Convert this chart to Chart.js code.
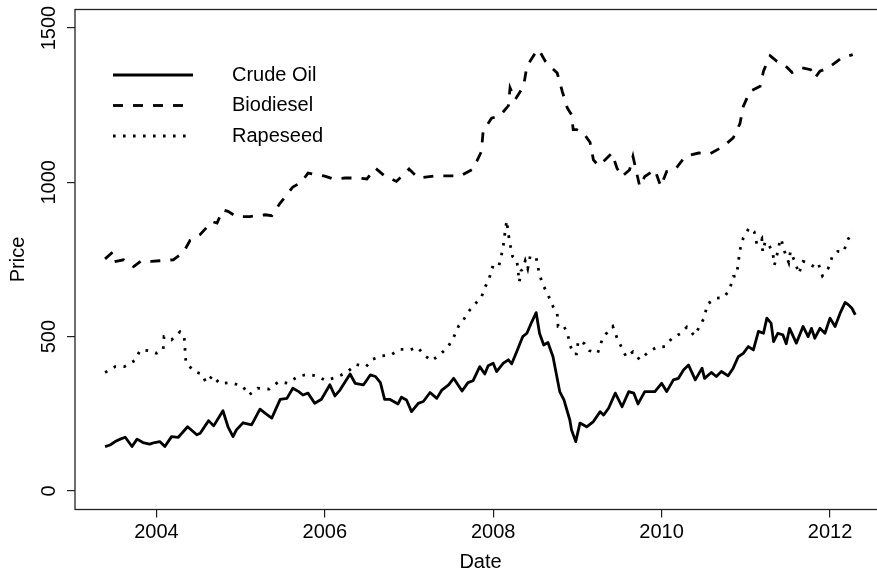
<!DOCTYPE html>
<html>
<head>
<meta charset="utf-8">
<script src="https://cdn.jsdelivr.net/npm/chart.js@4.4.1/dist/chart.umd.min.js"></script>
<style>
  html, body { margin: 0; padding: 0; background: #fff; overflow: hidden; }
  #wrap { position: absolute; left: 0; top: 0; width: 890px; height: 571px; }
</style>
</head>
<body>
<div id="wrap"><canvas id="priceChart"></canvas></div>
<script>
// weekly prices (x = decimal year)
var crudeYears = [2003.39, 2003.45, 2003.51, 2003.57, 2003.63, 2003.71, 2003.77, 2003.84, 2003.92, 2003.98,
  2004.04, 2004.10, 2004.18, 2004.26, 2004.37, 2004.48, 2004.52, 2004.62, 2004.68, 2004.79,
  2004.85, 2004.91, 2004.95, 2005.03, 2005.13, 2005.23, 2005.29, 2005.37, 2005.47, 2005.55,
  2005.62, 2005.69, 2005.74, 2005.80, 2005.88, 2005.96, 2006.06, 2006.12, 2006.18, 2006.30,
  2006.36, 2006.46, 2006.54, 2006.60, 2006.66, 2006.71, 2006.77, 2006.87, 2006.91, 2006.97,
  2007.03, 2007.11, 2007.17, 2007.25, 2007.33, 2007.39, 2007.47, 2007.53, 2007.63, 2007.70,
  2007.76, 2007.84, 2007.90, 2007.94, 2008.00, 2008.04, 2008.12, 2008.18, 2008.22, 2008.28,
  2008.35, 2008.40, 2008.46, 2008.51, 2008.55, 2008.60, 2008.65, 2008.71, 2008.79, 2008.84,
  2008.91, 2008.93, 2008.98, 2009.03, 2009.11, 2009.19, 2009.27, 2009.31, 2009.37, 2009.45,
  2009.53, 2009.61, 2009.67, 2009.72, 2009.80, 2009.92, 2010.00, 2010.06, 2010.14, 2010.20,
  2010.26, 2010.32, 2010.40, 2010.48, 2010.51, 2010.59, 2010.65, 2010.71, 2010.79, 2010.85,
  2010.91, 2010.97, 2011.03, 2011.09, 2011.15, 2011.21, 2011.25, 2011.30, 2011.33, 2011.38,
  2011.44, 2011.48, 2011.52, 2011.60, 2011.68, 2011.74, 2011.78, 2011.82, 2011.88, 2011.94,
  2012.00, 2012.06, 2012.12, 2012.18, 2012.22, 2012.26, 2012.30];
var crudePrices = [144, 149, 160, 168, 174, 144, 168, 157, 152, 157,
  160, 144, 176, 174, 208, 182, 187, 228, 211, 260,
  208, 176, 198, 221, 214, 265, 252, 236, 297, 300,
  333, 322, 311, 317, 284, 297, 344, 308, 327, 379,
  349, 344, 376, 371, 351, 297, 297, 282, 304, 295,
  257, 284, 290, 319, 300, 327, 344, 365, 324, 351,
  357, 403, 379, 406, 414, 387, 414, 425, 412, 452,
  500, 511, 549, 578, 511, 473, 481, 435, 322, 295,
  230, 198, 160, 220, 208, 225, 257, 246, 268, 317,
  273, 322, 317, 282, 322, 322, 349, 322, 360, 365,
  392, 408, 360, 398, 365, 384, 371, 387, 373, 398,
  435, 446, 468, 457, 517, 511, 560, 544, 484, 511,
  506, 477, 527, 479, 533, 500, 527, 495, 527, 511,
  560, 533, 576, 611, 603, 592, 571];

var dieselYears = [2003.39, 2003.49, 2003.52, 2003.61, 2003.73, 2003.82, 2003.94, 2004.04, 2004.20, 2004.32,
  2004.40, 2004.52, 2004.66, 2004.72, 2004.79, 2004.85, 2004.95, 2005.11, 2005.29, 2005.37,
  2005.47, 2005.55, 2005.62, 2005.72, 2005.80, 2005.90, 2006.00, 2006.10, 2006.24, 2006.38,
  2006.50, 2006.60, 2006.71, 2006.85, 2007.00, 2007.11, 2007.31, 2007.45, 2007.61, 2007.76,
  2007.86, 2007.88, 2007.98, 2008.08, 2008.18, 2008.20, 2008.26, 2008.36, 2008.40, 2008.50,
  2008.54, 2008.62, 2008.76, 2008.82, 2008.88, 2008.93, 2008.95, 2008.99, 2009.07, 2009.15,
  2009.19, 2009.25, 2009.33, 2009.41, 2009.47, 2009.53, 2009.62, 2009.66, 2009.74, 2009.80,
  2009.92, 2009.99, 2010.06, 2010.16, 2010.28, 2010.44, 2010.57, 2010.73, 2010.85, 2010.93,
  2010.97, 2011.05, 2011.17, 2011.21, 2011.25, 2011.29, 2011.37, 2011.47, 2011.55, 2011.67,
  2011.77, 2011.82, 2011.88, 2011.98, 2012.14, 2012.27];
var dieselPrices = [752, 776, 744, 749, 727, 746, 744, 746, 749, 773,
  812, 831, 873, 868, 911, 906, 889, 889, 895, 892,
  933, 960, 985, 1000, 1030, 1025, 1020, 1011, 1014, 1014,
  1011, 1046, 1021, 1003, 1043, 1014, 1021, 1021, 1021, 1043,
  1100, 1165, 1208, 1216, 1248, 1306, 1268, 1311, 1376, 1419,
  1430, 1392, 1354, 1295, 1241, 1219, 1171, 1171, 1160, 1130,
  1073, 1054, 1073, 1095, 1046, 1019, 1041, 1084, 987, 1019,
  1041, 987, 1035, 1041, 1084, 1095, 1092, 1116, 1144, 1190,
  1246, 1295, 1311, 1360, 1387, 1410, 1392, 1378, 1356, 1371,
  1365, 1338, 1360, 1371, 1403, 1414];

var seedYears = [2003.39, 2003.51, 2003.62, 2003.74, 2003.81, 2003.90, 2004.00, 2004.08, 2004.09, 2004.18,
  2004.28, 2004.33, 2004.34, 2004.35, 2004.45, 2004.54, 2004.59, 2004.67, 2004.75, 2004.87,
  2005.02, 2005.10, 2005.20, 2005.34, 2005.45, 2005.56, 2005.68, 2005.80, 2005.90, 2006.01,
  2006.14, 2006.26, 2006.37, 2006.49, 2006.57, 2006.68, 2006.78, 2006.89, 2007.02, 2007.10,
  2007.19, 2007.27, 2007.37, 2007.46, 2007.53, 2007.59, 2007.64, 2007.70, 2007.78, 2007.86,
  2007.89, 2007.95, 2007.99, 2008.06, 2008.09, 2008.12, 2008.14, 2008.16, 2008.18, 2008.20,
  2008.23, 2008.28, 2008.31, 2008.33, 2008.35, 2008.38, 2008.41, 2008.44, 2008.51, 2008.54,
  2008.58, 2008.65, 2008.71, 2008.76, 2008.77, 2008.83, 2008.88, 2008.91, 2008.95, 2008.99,
  2009.01, 2009.08, 2009.14, 2009.24, 2009.29, 2009.34, 2009.42, 2009.47, 2009.52, 2009.58,
  2009.66, 2009.74, 2009.83, 2009.94, 2010.04, 2010.13, 2010.22, 2010.30, 2010.34, 2010.39,
  2010.46, 2010.51, 2010.54, 2010.65, 2010.74, 2010.81, 2010.85, 2010.89, 2010.91, 2010.93,
  2010.97, 2011.04, 2011.10, 2011.13, 2011.16, 2011.19, 2011.20, 2011.23, 2011.28, 2011.32,
  2011.34, 2011.38, 2011.41, 2011.42, 2011.46, 2011.51, 2011.53, 2011.59, 2011.63, 2011.68,
  2011.73, 2011.81, 2011.86, 2011.91, 2011.98, 2012.03, 2012.09, 2012.16, 2012.21, 2012.27];
var seedPrices = [384, 403, 403, 422, 457, 455, 446, 457, 500, 490,
  516, 500, 457, 416, 387, 379, 351, 374, 348, 351,
  341, 311, 333, 330, 354, 349, 371, 378, 373, 358,
  369, 384, 410, 403, 427, 438, 440, 459, 458, 466,
  438, 422, 443, 465, 498, 535, 551, 579, 605, 627,
  653, 686, 725, 722, 754, 795, 837, 876, 833, 800,
  760, 749, 677, 713, 719, 746, 720, 762, 756, 714,
  674, 636, 598, 575, 534, 538, 513, 476, 444, 444,
  487, 478, 455, 446, 487, 509, 533, 496, 468, 434,
  451, 425, 447, 466, 468, 497, 509, 531, 519, 503,
  538, 563, 605, 625, 627, 654, 695, 697, 739, 780,
  820, 853, 840, 801, 808, 818, 775, 808, 794, 773,
  732, 776, 817, 816, 776, 740, 776, 738, 704, 744,
  740, 727, 738, 697, 722, 762, 776, 774, 813, 843];

var seriesNames = ['Crude Oil', 'Biodiesel', 'Rapeseed'];
var xTickValues = [2004, 2006, 2008, 2010, 2012];
var yTickValues = [0, 500, 1000, 1500];

function pairs(xs, ys) {
  return xs.map(function (x, i) { return { x: x, y: ys[i] }; });
}

var FONT = '"Liberation Sans", Arial, sans-serif';

// R-style bits the library does not draw: box, rotated y labels, titles, legend
var baseGraphics = {
  id: 'baseGraphics',
  afterDraw: function (chart) {
    var ctx = chart.ctx, a = chart.chartArea, ys = chart.scales.y;
    ctx.save();
    ctx.strokeStyle = '#222';
    ctx.lineWidth = 1.3;
    ctx.strokeRect(a.left, a.top, a.right - a.left, a.bottom - a.top);

    ctx.fillStyle = '#000';
    ctx.font = '20px ' + FONT;
    ctx.textAlign = 'center';
    ctx.textBaseline = 'middle';
    ys.ticks.forEach(function (t) {
      ctx.save();
      ctx.translate(49, ys.getPixelForValue(t.value));
      ctx.rotate(-Math.PI / 2);
      ctx.fillText(String(t.value), 0, 0);
      ctx.restore();
    });
    ctx.save();
    ctx.translate(18, (a.top + a.bottom) / 2);
    ctx.rotate(-Math.PI / 2);
    ctx.fillText('Price', 0, 0);
    ctx.restore();
    ctx.fillText('Date', (a.left + a.right) / 2, 562);

    // legend
    chart.data.datasets.forEach(function (ds, i) {
      var y = 75 + i * 30.5;
      ctx.beginPath();
      ctx.setLineDash(ds.borderDash || []);
      ctx.lineWidth = ds.borderWidth;
      ctx.strokeStyle = ds.borderColor;
      ctx.moveTo(113, y);
      ctx.lineTo(193, y);
      ctx.stroke();
      ctx.setLineDash([]);
      ctx.textAlign = 'left';
      ctx.fillText(ds.label, 232, y);
    });
    ctx.restore();
  }
};

new Chart(document.getElementById('priceChart'), {
  type: 'line',
  data: {
    datasets: [
      {
        label: seriesNames[0],
        data: pairs(crudeYears, crudePrices),
        borderColor: '#000',
        borderWidth: 2.8,
        borderJoinStyle: 'round'
      },
      {
        label: seriesNames[1],
        data: pairs(dieselYears, dieselPrices),
        borderColor: '#000',
        borderWidth: 2.8,
        borderDash: [10, 10]
      },
      {
        label: seriesNames[2],
        data: pairs(seedYears, seedPrices),
        borderColor: '#000',
        borderWidth: 2.8,
        borderDash: [2.6, 7.4]
      }
    ]
  },
  options: {
    responsive: true,
    maintainAspectRatio: false,
    animation: false,
    events: [],
    layout: { padding: { top: 9.5, right: 4, left: 0, bottom: 0 } },
    elements: { point: { radius: 0 }, line: { tension: 0, fill: false } },
    plugins: { legend: { display: false }, tooltip: { enabled: false } },
    scales: {
      x: {
        type: 'linear',
        min: 2003.033,
        max: 2012.665,
        afterFit: function (s) { s.height = 61.5; },
        afterBuildTicks: function (s) { s.ticks = xTickValues.map(function (v) { return { value: v }; }); },
        border: { display: false },
        grid: { drawOnChartArea: false, drawTicks: true, tickLength: 8, color: '#222', lineWidth: 1.2 },
        ticks: {
          color: '#000',
          padding: 3,
          maxRotation: 0,
          font: { family: FONT, size: 20 },
          callback: function (v) { return String(v); }
        }
      },
      y: {
        min: -60,
        max: 1560,
        afterFit: function (s) { s.width = 75; },
        afterBuildTicks: function (s) { s.ticks = yTickValues.map(function (v) { return { value: v }; }); },
        border: { display: false },
        grid: { drawOnChartArea: false, drawTicks: true, tickLength: 8, color: '#222', lineWidth: 1.2 },
        ticks: { display: false }
      }
    }
  },
  plugins: [baseGraphics]
});
</script>
</body>
</html>
